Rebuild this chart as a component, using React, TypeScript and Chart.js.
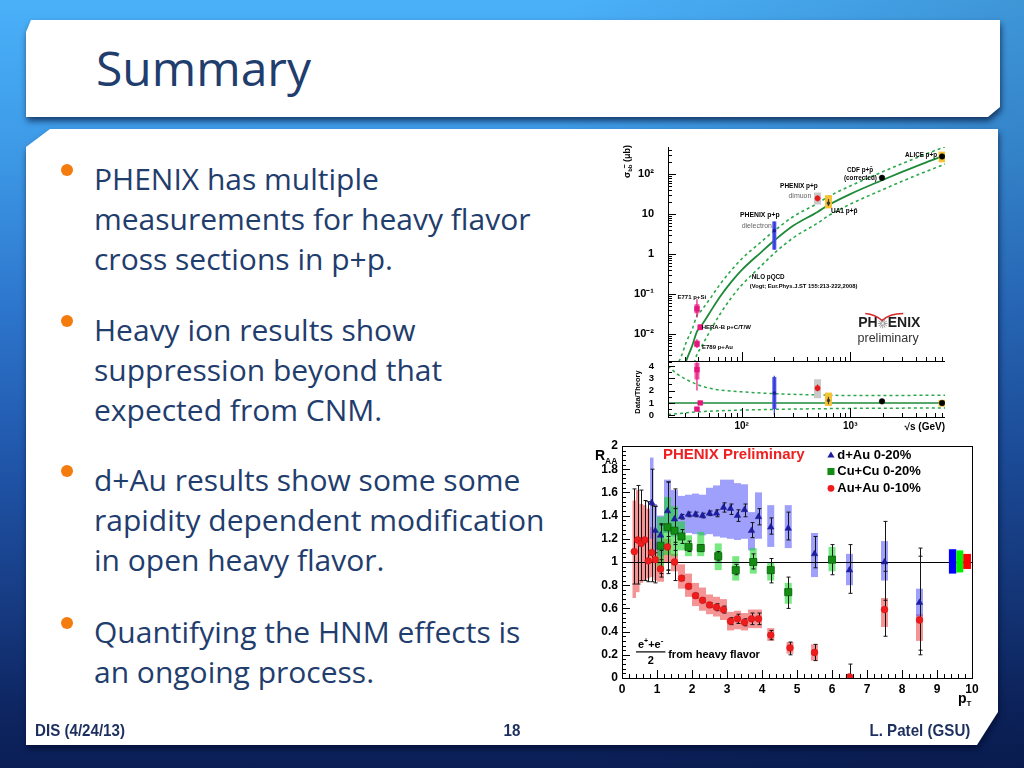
import React, { useEffect, useRef } from "react";
import { Chart, registerables } from "chart.js";

Chart.register(...registerables);

const F = '"Liberation Sans", Arial, Helvetica, sans-serif';

/* ================= top plot: sigma(b bbar) vs sqrt(s) ================= */
const nloSqrtS = [25, 28, 31, 35, 38.8, 41.6, 50, 63, 80, 100, 150, 200, 300, 500, 630, 1000, 1960, 3000, 5000, 7450];
const nloCentral = [0.0004, 0.0009, 0.0022, 0.005, 0.0115, 0.0148, 0.032, 0.085, 0.2, 0.4, 1.1, 2.2, 5.2, 11.4, 17, 32, 71, 115, 200, 300];
const nloUpper = [0.0015, 0.0029, 0.0064, 0.013, 0.029, 0.036, 0.07, 0.174, 0.39, 0.76, 2.0, 3.85, 8.8, 18.8, 27.7, 51, 114, 185, 324, 490];
const nloLower = [0.00005, 0.0001, 0.00044, 0.0012, 0.0031, 0.0043, 0.0106, 0.031, 0.08, 0.168, 0.5, 1.06, 2.6, 6.0, 9.2, 17.9, 40.5, 67, 118, 180];

const ratioBandSqrtS = [21, 25, 31, 38.8, 50, 63, 100, 200, 500, 1000, 3000, 7450];
const ratioUpper = [4.0, 3.4, 2.9, 2.5, 2.2, 2.05, 1.9, 1.75, 1.65, 1.6, 1.61, 1.63];
const ratioLower = [0.08, 0.12, 0.2, 0.27, 0.33, 0.37, 0.42, 0.48, 0.53, 0.56, 0.58, 0.6];
const ratioUnitySqrtS = [21, 7450];
const ratioUnity = [1, 1];

const expNames = ["E771 p+Si", "HERA-B p+C/T/W", "E789 p+Au", "PHENIX dielectron", "PHENIX dimuon", "UA1", "CDF", "ALICE"];
const expSqrtS = [38.8, 41.6, 38.8, 200, 500, 630, 1960, 7000];
const expSigma = [0.043, 0.0148, 0.0057, 3.9, 25, 19, 82, 280];
const expStatLo = [0.026, 0.0128, 0.0045, 1.3, 21, 16, 78, 255];
const expStatHi = [0.075, 0.0172, 0.0074, 6.6, 30, 24, 87, 310];
const expSysLo = [0.033, 0.0126, 0.0047, 1.3, 17.6, 14, 82, 200];
const expSysHi = [0.056, 0.0175, 0.0069, 6.6, 35, 30, 82, 370];
const expRatio = [3.7, 1.0, 0.5, 1.8, 2.2, 1.2, 1.13, 1.0];
const expRatioStatLo = [2.0, 0.9, 0.4, 0.0, 1.95, 0.9, 1.08, 0.9];
const expRatioStatHi = [4.3, 1.1, 0.6, 3.2, 2.5, 1.5, 1.18, 1.1];
const expRatioSysLo = [2.9, 0.85, 0.36, 0.5, 1.38, 0.76, 1.13, 0.7];
const expRatioSysHi = [4.25, 1.15, 0.64, 3.1, 2.92, 1.84, 1.13, 1.25];

const expStyle = [
  { marker: "rect", size: 3.4, fill: "#e3177c", box: "rgba(236,64,150,0.85)", boxHalf: 2.5, bar: "#e3177c" },
  { marker: "rect", size: 3.4, fill: "#e3177c", box: "rgba(236,64,150,0.85)", boxHalf: 2.5, bar: "#e3177c" },
  { marker: "rect", size: 3.4, fill: "#e3177c", box: "rgba(236,64,150,0.85)", boxHalf: 2.5, bar: "#e3177c" },
  { marker: "rect", size: 1.8, fill: "#1a1a90", box: "#4a52e8", boxHalf: 2, bar: "#3a3ad0" },
  { marker: "circle", size: 2.6, fill: "#e41a1a", box: "#c9c9c9", boxHalf: 3.5, bar: "#e41a1a" },
  { marker: "circle", size: 1.4, fill: "#333333", box: "#f6c234", boxHalf: 3.5, bar: "#444444" },
  { marker: "circle", size: 2.8, fill: "#000000", box: null, boxHalf: 0, bar: "#000000" },
  { marker: "circle", size: 2.8, fill: "#000000", box: "#f6c234", boxHalf: 3.5, bar: "#000000" },
];

const xsecNotes = [
  { t: "ALICE p+p", x: 3190, y: 305, size: 6.3, color: "#000", align: "left", bold: true },
  { t: "CDF p+p\u0304", x: 933, y: 128, size: 6.3, color: "#000", align: "left", bold: true },
  { t: "(corrected)", x: 875, y: 79, size: 6.3, color: "#000", align: "left", bold: true },
  { t: "PHENIX p+p", x: 337, y: 49, size: 6.5, color: "#000", align: "center", bold: true },
  { t: "dimuon", x: 344, y: 28.6, size: 7, color: "#666", align: "center", bold: false },
  { t: "UA1 p+p\u0304", x: 664, y: 11.6, size: 6.5, color: "#000", align: "left", bold: true },
  { t: "PHENIX p+p", x: 147, y: 9.55, size: 6.8, color: "#000", align: "center", bold: true },
  { t: "dielectron", x: 138, y: 5.06, size: 7, color: "#666", align: "center", bold: false },
  { t: "NLO pQCD", x: 124, y: 0.272, size: 6.3, color: "#000", align: "left", bold: true },
  { t: "(Vogt; Eur.Phys.J.ST 155:213-222,2008)", x: 119, y: 0.152, size: 5.8, color: "#000", align: "left", bold: true },
  { t: "E771 p+Si", x: 25.7, y: 0.0855, size: 6, color: "#000", align: "left", bold: true },
  { t: "HERA-B p+C/T/W", x: 42.9, y: 0.0146, size: 6, color: "#000", align: "left", bold: true },
  { t: "E789 p+Au", x: 43.2, y: 0.00478, size: 6, color: "#000", align: "left", bold: true },
];

/* ================= bottom plot: R_AA vs pT ================= */
const dAuPt = [0.85, 0.95, 1.1, 1.3, 1.5, 1.7, 1.9, 2.1, 2.3, 2.5, 2.7, 2.9, 3.1, 3.3, 3.5, 3.7, 3.9, 4.25, 4.75, 5.5, 6.5, 7.5, 8.5];
const dAuRaa = [1.51, 1.27, 1.23, 1.44, 1.37, 1.39, 1.41, 1.41, 1.40, 1.42, 1.42, 1.47, 1.46, 1.40, 1.45, 1.27, 1.39, 1.30, 1.29, 1.07, 0.93, 1.00, 0.65];
const dAuStatLo = [1.00, 1.08, 1.10, 0.93, 1.17, 1.37, 1.39, 1.39, 1.38, 1.40, 1.39, 1.43, 1.41, 1.35, 1.39, 1.21, 1.32, 1.24, 1.19, 0.95, 0.73, 0.67, 0.24];
const dAuStatHi = [1.80, 1.48, 1.33, 1.69, 1.63, 1.41, 1.43, 1.43, 1.42, 1.44, 1.45, 1.51, 1.50, 1.45, 1.50, 1.34, 1.46, 1.38, 1.43, 1.22, 1.15, 1.35, 1.05];
const dAuSysLo = [1.20, 1.10, 1.05, 1.25, 1.22, 1.25, 1.25, 1.24, 1.23, 1.24, 1.22, 1.21, 1.20, 1.19, 1.20, 1.10, 1.20, 1.13, 1.12, 0.87, 0.80, 0.84, 0.53];
const dAuSysHi = [1.90, 1.50, 1.40, 1.71, 1.62, 1.57, 1.58, 1.59, 1.58, 1.64, 1.66, 1.71, 1.71, 1.68, 1.67, 1.43, 1.60, 1.49, 1.49, 1.25, 1.07, 1.18, 0.77];
const dAuBinHalf = [0.05, 0.05, 0.1, 0.1, 0.1, 0.1, 0.1, 0.1, 0.1, 0.1, 0.1, 0.1, 0.1, 0.1, 0.1, 0.1, 0.1, 0.1, 0.1, 0.1, 0.1, 0.1, 0.1];

const cuPt = [1.1, 1.3, 1.5, 1.7, 1.9, 2.25, 2.75, 3.25, 3.75, 4.25, 4.75, 6.0];
const cuRaa = [1.14, 1.30, 1.27, 1.22, 1.13, 1.12, 1.05, 0.93, 1.00, 0.93, 0.74, 1.02];
const cuStatLo = [0.90, 0.93, 1.10, 1.16, 1.09, 1.09, 1.01, 0.89, 0.94, 0.82, 0.60, 0.89];
const cuStatHi = [1.32, 1.69, 1.46, 1.28, 1.18, 1.15, 1.09, 0.98, 1.07, 1.03, 0.87, 1.15];
const cuSysLo = [0.92, 1.06, 1.05, 1.10, 1.05, 1.05, 0.93, 0.84, 0.90, 0.84, 0.64, 0.92];
const cuSysHi = [1.39, 1.56, 1.48, 1.35, 1.23, 1.26, 1.16, 1.05, 1.12, 1.00, 0.82, 1.13];
const cuBinHalf = [0.1, 0.1, 0.1, 0.1, 0.1, 0.1, 0.1, 0.1, 0.1, 0.1, 0.1, 0.1];

const auPt = [0.35, 0.45, 0.55, 0.65, 0.75, 0.85, 0.95, 1.1, 1.3, 1.5, 1.7, 1.9, 2.1, 2.3, 2.5, 2.7, 2.9, 3.1, 3.3, 3.5, 3.7, 3.9, 4.25, 4.8, 5.5, 6.5, 7.5, 8.5];
const auRaa = [1.09, 1.19, 1.16, 1.19, 1.01, 1.08, 1.02, 0.94, 1.13, 1.00, 0.86, 0.79, 0.71, 0.67, 0.63, 0.61, 0.59, 0.49, 0.51, 0.48, 0.51, 0.51, 0.37, 0.26, 0.22, 0.01, 0.59, 0.50];
const auStatLo = [0.81, 0.81, 0.84, 0.84, 0.83, 0.83, 0.82, 0.87, 0.90, 0.84, 0.84, 0.77, 0.69, 0.65, 0.61, 0.58, 0.56, 0.46, 0.47, 0.45, 0.46, 0.46, 0.33, 0.20, 0.15, -0.02, 0.36, 0.20];
const auStatHi = [1.63, 1.66, 1.62, 1.53, 1.52, 1.49, 1.48, 1.02, 1.22, 1.15, 0.88, 0.81, 0.73, 0.69, 0.65, 0.64, 0.62, 0.52, 0.55, 0.51, 0.56, 0.56, 0.41, 0.31, 0.29, 0.12, 0.92, 1.12];
const auSysLo = [0.69, 0.74, 0.82, 0.84, 0.86, 0.87, 0.84, 0.83, 1.00, 0.92, 0.77, 0.70, 0.62, 0.58, 0.55, 0.53, 0.50, 0.41, 0.42, 0.41, 0.43, 0.43, 0.32, 0.21, 0.15, -0.02, 0.44, 0.32];
const auSysHi = [1.53, 1.62, 1.50, 1.49, 1.46, 1.30, 1.25, 1.10, 1.20, 1.07, 0.98, 0.90, 0.82, 0.78, 0.72, 0.70, 0.68, 0.57, 0.58, 0.56, 0.59, 0.59, 0.43, 0.31, 0.29, 0.03, 0.69, 0.55];
const auBinHalf = [0.05, 0.05, 0.05, 0.05, 0.05, 0.05, 0.05, 0.1, 0.1, 0.1, 0.1, 0.1, 0.1, 0.1, 0.1, 0.1, 0.1, 0.1, 0.1, 0.1, 0.1, 0.1, 0.1, 0.1, 0.1, 0.1, 0.1, 0.1];

const normPtLo = [9.34, 9.55, 9.75];
const normPtHi = [9.55, 9.75, 9.97];
const normLo = [0.90, 0.91, 0.94];
const normHi = [1.11, 1.10, 1.07];
const normColors = ["#0000ff", "#00ee00", "#ff0000"];

const raaLegend = ["d+Au 0-20%", "Cu+Cu 0-20%", "Au+Au 0-10%"];

const raaStyles = {
  dAu: { marker: "triangle", r: 3.8, fill: "#1c1c9c", box: "rgba(90,90,250,0.58)" },
  cu: { marker: "rect", r: 5.0, fill: "#138c13", box: "rgba(20,215,40,0.58)" },
  au: { marker: "circle", r: 3.4, fill: "#ee1c1c", box: "rgba(236,60,60,0.55)" },
};

const raaSeriesDraw = [
  { pt: auPt, statLo: auStatLo, statHi: auStatHi, sysLo: auSysLo, sysHi: auSysHi, half: auBinHalf, style: raaStyles.au },
  { pt: dAuPt, statLo: dAuStatLo, statHi: dAuStatHi, sysLo: dAuSysLo, sysHi: dAuSysHi, half: dAuBinHalf, style: raaStyles.dAu },
  { pt: cuPt, statLo: cuStatLo, statHi: cuStatHi, sysLo: cuSysLo, sysHi: cuSysHi, half: cuBinHalf, style: raaStyles.cu },
];

/* ================= slide text ================= */
const bullets = [
  ["PHENIX has multiple", "measurements for heavy flavor", "cross sections in p+p."],
  ["Heavy ion results show", "suppression beyond that", "expected from CNM."],
  ["d+Au results show some some", "rapidity dependent modification", "in open heavy flavor."],
  ["Quantifying the HNM effects is", "an ongoing process."],
];
const bulletBaselines = [187, 338, 488, 640];

/* ================= helpers ================= */
type Seg = { t: string; font: string; dy?: number; color?: string; over?: boolean };

function drawRich(ctx: any, segs: Seg[], x: number, y: number, align = "left") {
  let w = 0;
  for (const s of segs) {
    ctx.font = s.font;
    w += ctx.measureText(s.t).width;
  }
  let cx = align === "center" ? x - w / 2 : align === "right" ? x - w : x;
  ctx.textAlign = "left";
  for (const s of segs) {
    ctx.font = s.font;
    ctx.fillStyle = s.color || "#000";
    ctx.fillText(s.t, cx, y + (s.dy || 0));
    const sw = ctx.measureText(s.t).width;
    if (s.over) {
      const cw = ctx.measureText(s.t.slice(-1)).width;
      ctx.strokeStyle = s.color || "#000";
      ctx.lineWidth = 0.8;
      ctx.beginPath();
      ctx.moveTo(cx + sw - cw, y + (s.dy || 0) - 6);
      ctx.lineTo(cx + sw, y + (s.dy || 0) - 6);
      ctx.stroke();
    }
    cx += sw;
  }
}

function clipArea(ctx: any, a: any) {
  ctx.beginPath();
  ctx.rect(a.left, a.top, a.right - a.left, a.bottom - a.top);
  ctx.clip();
}

function logTickValues(min: number, max: number) {
  const out: { v: number; major: boolean }[] = [];
  for (let e = -4; e <= 4; e++) {
    for (let m = 1; m <= 9; m++) {
      const v = m * Math.pow(10, e);
      if (v >= min * 0.9999 && v <= max * 1.0001) out.push({ v, major: m === 1 });
    }
  }
  return out;
}

function drawMarker(ctx: any, kind: string, x: number, y: number, r: number, color: string) {
  ctx.fillStyle = color;
  ctx.beginPath();
  if (kind === "circle") {
    ctx.arc(x, y, r, 0, Math.PI * 2);
  } else if (kind === "rect") {
    const h = r * Math.SQRT1_2;
    ctx.rect(x - h, y - h, 2 * h, 2 * h);
  } else {
    ctx.moveTo(x, y - r);
    ctx.lineTo(x + r * 0.95, y + r * 0.6);
    ctx.lineTo(x - r * 0.95, y + r * 0.6);
    ctx.closePath();
  }
  ctx.fill();
}

function makeExpPlugin(id: string, yv: number[], sLo: number[], sHi: number[], bLo: number[], bHi: number[], after: (chart: any) => void) {
  return {
    id,
    beforeDatasetDraw(chart: any, args: any) {
      if (args.index !== 0) return;
      const { ctx, chartArea: a } = chart;
      const X = chart.scales.x;
      const Y = chart.scales.y;
      ctx.save();
      clipArea(ctx, a);
      expSqrtS.forEach((sx, i) => {
        const st = expStyle[i];
        const x = X.getPixelForValue(sx);
        if (st.box) {
          const t = Y.getPixelForValue(bHi[i]);
          const b = Y.getPixelForValue(bLo[i]);
          ctx.fillStyle = st.box;
          ctx.fillRect(x - st.boxHalf, t, 2 * st.boxHalf, b - t);
        }
        ctx.strokeStyle = st.bar;
        ctx.lineWidth = 1.2;
        ctx.beginPath();
        ctx.moveTo(x, Y.getPixelForValue(sHi[i]));
        ctx.lineTo(x, Y.getPixelForValue(sLo[i]));
        ctx.stroke();
      });
      ctx.restore();
    },
    afterDraw(chart: any) {
      after(chart);
    },
  };
}

function drawLogXTicks(ctx: any, X: any, a: any) {
  ctx.beginPath();
  for (const t of logTickValues(X.min, X.max)) {
    const x = Math.round(X.getPixelForValue(t.v)) + 0.5;
    ctx.moveTo(x, a.bottom);
    ctx.lineTo(x, a.bottom - (t.major ? 10 : 5));
  }
  ctx.stroke();
}

/* ================= chart configs ================= */
const topLayoutX = {
  type: "logarithmic",
  min: 21,
  max: 7450,
};

function xsecConfig(): any {
  const plugin = makeExpPlugin("xsecDecor", expSigma, expStatLo, expStatHi, expSysLo, expSysHi, (chart: any) => {
    const { ctx, chartArea: a } = chart;
    const X = chart.scales.x;
    const Y = chart.scales.y;
    ctx.save();
    ctx.strokeStyle = "#000";
    ctx.lineWidth = 1;
    ctx.beginPath();
    ctx.moveTo(Math.round(a.left) + 0.5, a.top);
    ctx.lineTo(Math.round(a.left) + 0.5, a.bottom);
    ctx.moveTo(a.left, Math.round(a.bottom) - 0.5);
    ctx.lineTo(a.right, Math.round(a.bottom) - 0.5);
    ctx.stroke();
    ctx.beginPath();
    for (const t of logTickValues(Y.min, Y.max)) {
      const y = Math.round(Y.getPixelForValue(t.v)) + 0.5;
      ctx.moveTo(a.left, y);
      ctx.lineTo(a.left + (t.major ? 8 : 4), y);
    }
    ctx.stroke();
    drawLogXTicks(ctx, X, a);

    ctx.textBaseline = "middle";
    for (const n of xsecNotes) {
      ctx.fillStyle = n.color;
      ctx.font = `${n.bold ? "bold " : ""}${n.size}px ${F}`;
      ctx.textAlign = n.align;
      ctx.fillText(n.t, X.getPixelForValue(n.x), Y.getPixelForValue(n.y));
    }
    // PHENIX logo
    const lx = X.getPixelForValue(1185);
    const ly = Y.getPixelForValue(0.0184);
    ctx.textAlign = "left";
    ctx.fillStyle = "#1e1e1e";
    ctx.font = `bold 14px ${F}`;
    ctx.fillText("PH", lx, ly);
    const wPH = ctx.measureText("PH").width;
    ctx.fillText("ENIX", lx + wPH + 10, ly);
    const sx = lx + wPH + 5;
    ctx.strokeStyle = "#888";
    ctx.lineWidth = 0.8;
    ctx.beginPath();
    for (let k = 0; k < 12; k++) {
      const ang = (k * Math.PI) / 6;
      ctx.moveTo(sx + Math.cos(ang) * 1.2, ly + Math.sin(ang) * 1.2);
      ctx.lineTo(sx + Math.cos(ang) * 4.8, ly + Math.sin(ang) * 4.8);
    }
    ctx.stroke();
    ctx.strokeStyle = "#d42a2a";
    ctx.lineWidth = 1.3;
    ctx.beginPath();
    ctx.moveTo(lx + 7, ly - 10);
    ctx.quadraticCurveTo(lx + 17, ly - 9, lx + 24, ly - 3);
    ctx.quadraticCurveTo(lx + 31, ly - 10, lx + 45, ly - 10);
    ctx.stroke();
    ctx.fillStyle = "#333";
    ctx.font = `12.5px ${F}`;
    ctx.fillText("preliminary", X.getPixelForValue(1167), Y.getPixelForValue(0.0079));

    // y title sigma_bb (ub)
    ctx.save();
    ctx.translate(a.left - 40, a.top + 31);
    ctx.rotate(-Math.PI / 2);
    ctx.textBaseline = "middle";
    drawRich(ctx, [
      { t: "\u03c3", font: `bold 9px ${F}` },
      { t: "bb", font: `bold 6px ${F}`, dy: 2.5, over: true },
      { t: " (\u03bcb)", font: `bold 9px ${F}` },
    ], 0, 0, "left");
    ctx.restore();
    ctx.restore();
  });

  return {
    type: "scatter",
    data: {
      datasets: [
        {
          label: "data",
          data: expSqrtS.map((x, i) => ({ x, y: expSigma[i] })),
          pointStyle: expStyle.map((s) => s.marker),
          pointRadius: expStyle.map((s) => s.size),
          pointBackgroundColor: expStyle.map((s) => s.fill),
          pointBorderColor: expStyle.map((s) => s.fill),
          pointBorderWidth: 0.5,
        },
        {
          type: "line",
          label: "NLO pQCD",
          data: nloSqrtS.map((x, i) => ({ x, y: nloCentral[i] })),
          borderColor: "#1d8a38",
          borderWidth: 1.8,
          pointRadius: 0,
          cubicInterpolationMode: "monotone",
          fill: false,
        },
        {
          type: "line",
          label: "NLO upper",
          data: nloSqrtS.map((x, i) => ({ x, y: nloUpper[i] })),
          borderColor: "#2aa84a",
          borderDash: [3, 3],
          borderWidth: 1.6,
          pointRadius: 0,
          cubicInterpolationMode: "monotone",
          fill: false,
        },
        {
          type: "line",
          label: "NLO lower",
          data: nloSqrtS.map((x, i) => ({ x, y: nloLower[i] })),
          borderColor: "#2aa84a",
          borderDash: [3, 3],
          borderWidth: 1.6,
          pointRadius: 0,
          cubicInterpolationMode: "monotone",
          fill: false,
        },
      ],
    },
    options: {
      animation: false,
      responsive: false,
      maintainAspectRatio: false,
      events: [],
      layout: { padding: { top: 24, bottom: 24, left: 0, right: 15 } },
      plugins: { legend: { display: false }, tooltip: { enabled: false } },
      scales: {
        x: { ...topLayoutX, display: false },
        y: {
          type: "logarithmic",
          min: 0.002,
          max: 483,
          afterFit: (s: any) => { s.width = 53; },
          afterBuildTicks: (s: any) => { s.ticks = [0.01, 0.1, 1, 10, 100].map((v) => ({ value: v })); },
          grid: { display: false, drawTicks: false },
          border: { display: false },
          ticks: {
            padding: 14,
            autoSkip: false,
            color: "#000",
            font: { family: F, size: 11, weight: "bold" },
            callback: (v: number) => {
              const e = Math.round(Math.log10(v));
              return ({ 2: "10\u00b2", 1: "10", 0: "1", [-1]: "10\u207b\u00b9", [-2]: "10\u207b\u00b2" } as any)[e];
            },
          },
        },
      },
    },
    plugins: [plugin],
  };
}

function ratioConfig(): any {
  const plugin = makeExpPlugin("ratioDecor", expRatio, expRatioStatLo, expRatioStatHi, expRatioSysLo, expRatioSysHi, (chart: any) => {
    const { ctx, chartArea: a } = chart;
    const X = chart.scales.x;
    const Y = chart.scales.y;
    ctx.save();
    ctx.strokeStyle = "#000";
    ctx.lineWidth = 1;
    ctx.beginPath();
    ctx.moveTo(Math.round(a.left) + 0.5, a.top);
    ctx.lineTo(Math.round(a.left) + 0.5, a.bottom);
    ctx.moveTo(a.left, Math.round(a.bottom) - 0.5);
    ctx.lineTo(a.right, Math.round(a.bottom) - 0.5);
    ctx.stroke();
    ctx.beginPath();
    for (let k = 0; k <= 8; k++) {
      const v = k * 0.5;
      const y = Math.round(Y.getPixelForValue(v)) + 0.5;
      ctx.moveTo(a.left, y);
      ctx.lineTo(a.left + (k % 2 === 0 ? 7 : 4), y);
    }
    ctx.stroke();
    drawLogXTicks(ctx, X, a);

    ctx.textBaseline = "middle";
    drawRich(ctx, [{ t: "\u221as (GeV)", font: `bold 10px ${F}` }], a.right, a.bottom + 9, "right");

    ctx.save();
    ctx.translate(a.left - 30, (a.top + a.bottom) / 2 + 2);
    ctx.rotate(-Math.PI / 2);
    ctx.textBaseline = "middle";
    drawRich(ctx, [{ t: "Data/Theory", font: `bold 7.5px ${F}` }], 0, 0, "center");
    ctx.restore();
    ctx.restore();
  });

  return {
    type: "scatter",
    data: {
      datasets: [
        {
          label: "data/theory",
          data: expSqrtS.map((x, i) => ({ x, y: expRatio[i] })),
          pointStyle: expStyle.map((s) => s.marker),
          pointRadius: expStyle.map((s) => s.size),
          pointBackgroundColor: expStyle.map((s) => s.fill),
          pointBorderColor: expStyle.map((s) => s.fill),
          pointBorderWidth: 0.5,
        },
        {
          type: "line",
          label: "unity",
          data: ratioUnitySqrtS.map((x, i) => ({ x, y: ratioUnity[i] })),
          borderColor: "#1d8a38",
          borderWidth: 1.5,
          pointRadius: 0,
          fill: false,
        },
        {
          type: "line",
          label: "upper",
          data: ratioBandSqrtS.map((x, i) => ({ x, y: ratioUpper[i] })),
          borderColor: "#2aa84a",
          borderDash: [3, 3],
          borderWidth: 1.5,
          pointRadius: 0,
          cubicInterpolationMode: "monotone",
          fill: false,
        },
        {
          type: "line",
          label: "lower",
          data: ratioBandSqrtS.map((x, i) => ({ x, y: ratioLower[i] })),
          borderColor: "#2aa84a",
          borderDash: [3, 3],
          borderWidth: 1.5,
          pointRadius: 0,
          cubicInterpolationMode: "monotone",
          fill: false,
        },
      ],
    },
    options: {
      animation: false,
      responsive: false,
      maintainAspectRatio: false,
      events: [],
      layout: { padding: { top: 24, bottom: 0, left: 0, right: 15 } },
      plugins: { legend: { display: false }, tooltip: { enabled: false } },
      scales: {
        x: {
          ...topLayoutX,
          afterFit: (s: any) => { s.height = 22; },
          afterBuildTicks: (s: any) => { s.ticks = [100, 1000].map((v) => ({ value: v })); },
          grid: { display: false, drawTicks: false },
          border: { display: false },
          ticks: {
            padding: 2,
            autoSkip: false,
            color: "#000",
            maxRotation: 0,
            font: { family: F, size: 10, weight: "bold" },
            callback: (v: number) => (v < 500 ? "10\u00b2" : "10\u00b3"),
          },
        },
        y: {
          type: "linear",
          min: -0.22,
          max: 4.32,
          afterFit: (s: any) => { s.width = 53; },
          afterBuildTicks: (s: any) => { s.ticks = [0, 1, 2, 3, 4].map((v) => ({ value: v })); },
          grid: { display: false, drawTicks: false },
          border: { display: false },
          ticks: { padding: 14, autoSkip: false, color: "#000", font: { family: F, size: 9.5, weight: "bold" } },
        },
      },
    },
    plugins: [plugin],
  };
}

function raaConfig(): any {
  const plugin = {
    id: "raaDecor",
    beforeDatasetsDraw(chart: any) {
      const { ctx, chartArea: a } = chart;
      const X = chart.scales.x;
      const Y = chart.scales.y;
      ctx.save();
      clipArea(ctx, a);
      for (const s of raaSeriesDraw) {
        ctx.fillStyle = s.style.box;
        s.pt.forEach((p: number, i: number) => {
          const x0 = X.getPixelForValue(p - s.half[i]);
          const x1 = X.getPixelForValue(p + s.half[i]);
          const y0 = Y.getPixelForValue(s.sysHi[i]);
          const y1 = Y.getPixelForValue(s.sysLo[i]);
          ctx.fillRect(x0, y0, x1 - x0, y1 - y0);
        });
      }
      ctx.strokeStyle = "#000";
      ctx.lineWidth = 1;
      const yu = Math.round(Y.getPixelForValue(1)) + 0.5;
      ctx.beginPath();
      ctx.moveTo(X.getPixelForValue(0), yu);
      ctx.lineTo(X.getPixelForValue(10), yu);
      ctx.stroke();
      ctx.strokeStyle = "#151515";
      ctx.beginPath();
      for (const s of raaSeriesDraw) {
        s.pt.forEach((p: number, i: number) => {
          const x = Math.round(X.getPixelForValue(p)) + 0.5;
          const t = Y.getPixelForValue(s.statHi[i]);
          const b = Y.getPixelForValue(s.statLo[i]);
          ctx.moveTo(x, t); ctx.lineTo(x, b);
          ctx.moveTo(x - 2, t); ctx.lineTo(x + 2, t);
          ctx.moveTo(x - 2, b); ctx.lineTo(x + 2, b);
        });
      }
      ctx.stroke();
      ctx.restore();
    },
    afterDraw(chart: any) {
      const { ctx, chartArea: a } = chart;
      const X = chart.scales.x;
      const Y = chart.scales.y;
      ctx.save();
      normPtLo.forEach((lo, i) => {
        const x0 = X.getPixelForValue(lo);
        const x1 = X.getPixelForValue(normPtHi[i]);
        const y0 = Y.getPixelForValue(normHi[i]);
        const y1 = Y.getPixelForValue(normLo[i]);
        ctx.fillStyle = normColors[i];
        ctx.fillRect(x0, y0, x1 - x0, y1 - y0);
      });
      ctx.strokeStyle = "#000";
      ctx.lineWidth = 1;
      ctx.strokeRect(Math.round(a.left) + 0.5, Math.round(a.top) + 0.5, Math.round(a.right - a.left), Math.round(a.bottom - a.top));
      ctx.beginPath();
      for (let k = 0; k <= 50; k++) {
        const x = Math.round(X.getPixelForValue(k * 0.2)) + 0.5;
        ctx.moveTo(x, a.bottom);
        ctx.lineTo(x, a.bottom - (k % 5 === 0 ? 8 : 4));
      }
      for (let k = 0; k <= 50; k++) {
        const y = Math.round(Y.getPixelForValue(k * 0.04)) + 0.5;
        ctx.moveTo(a.left, y);
        ctx.lineTo(a.left + (k % 5 === 0 ? 8 : 4), y);
      }
      ctx.stroke();

      ctx.textBaseline = "middle";
      ctx.textAlign = "left";
      ctx.fillStyle = "#ee2020";
      ctx.font = `bold 15px ${F}`;
      ctx.fillText("PHENIX Preliminary", X.getPixelForValue(1.17), Y.getPixelForValue(1.92));

      const legStyles = [raaStyles.dAu, raaStyles.cu, raaStyles.au];
      const legY = [1.92, 1.78, 1.635];
      raaLegend.forEach((name, i) => {
        const st = legStyles[i];
        drawMarker(ctx, st.marker, X.getPixelForValue(5.97), Y.getPixelForValue(legY[i]), st.r, st.fill);
        ctx.fillStyle = "#000";
        ctx.font = `bold 13px ${F}`;
        ctx.fillText(name, X.getPixelForValue(6.15), Y.getPixelForValue(legY[i]));
      });

      // e+ + e- / 2 from heavy flavor
      const fx = X.getPixelForValue(0.82);
      drawRich(ctx, [
        { t: "e", font: `bold 11px ${F}` },
        { t: "+", font: `bold 7px ${F}`, dy: -4 },
        { t: "+e", font: `bold 11px ${F}` },
        { t: "-", font: `bold 8px ${F}`, dy: -4 },
      ], fx, Y.getPixelForValue(0.285), "center");
      ctx.strokeStyle = "#000";
      ctx.lineWidth = 1.2;
      ctx.beginPath();
      ctx.moveTo(X.getPixelForValue(0.4), Y.getPixelForValue(0.225));
      ctx.lineTo(X.getPixelForValue(1.24), Y.getPixelForValue(0.225));
      ctx.stroke();
      drawRich(ctx, [{ t: "2", font: `bold 11px ${F}` }], fx, Y.getPixelForValue(0.15), "center");
      drawRich(ctx, [{ t: "from heavy flavor", font: `bold 11px ${F}` }], X.getPixelForValue(1.32), Y.getPixelForValue(0.2), "left");

      ctx.textBaseline = "alphabetic";
      drawRich(ctx, [
        { t: "R", font: `bold 14px ${F}` },
        { t: "AA", font: `bold 8.5px ${F}`, dy: 4 },
      ], a.left - 27, a.top + 14, "left");
      drawRich(ctx, [
        { t: "p", font: `bold 14px ${F}` },
        { t: "T", font: `bold 8px ${F}`, dy: 3 },
      ], a.right - 14, a.bottom + 25, "left");
      ctx.restore();
    },
  };

  return {
    type: "scatter",
    data: {
      datasets: [
        {
          label: raaLegend[2],
          data: auPt.map((x, i) => ({ x, y: auRaa[i] })),
          pointStyle: "circle",
          pointRadius: raaStyles.au.r,
          pointBackgroundColor: raaStyles.au.fill,
          pointBorderColor: "#c81010",
          pointBorderWidth: 0.5,
        },
        {
          label: raaLegend[1],
          data: cuPt.map((x, i) => ({ x, y: cuRaa[i] })),
          pointStyle: "rect",
          pointRadius: raaStyles.cu.r,
          pointBackgroundColor: raaStyles.cu.fill,
          pointBorderColor: "#0b5e0b",
          pointBorderWidth: 0.8,
        },
        {
          label: raaLegend[0],
          data: dAuPt.map((x, i) => ({ x, y: dAuRaa[i] })),
          pointStyle: "triangle",
          pointRadius: raaStyles.dAu.r,
          pointBackgroundColor: raaStyles.dAu.fill,
          pointBorderColor: raaStyles.dAu.fill,
          pointBorderWidth: 0.5,
        },
      ],
    },
    options: {
      animation: false,
      responsive: false,
      maintainAspectRatio: false,
      events: [],
      layout: { padding: { top: 13, bottom: 0, left: 0, right: 13 } },
      plugins: { legend: { display: false }, tooltip: { enabled: false } },
      scales: {
        x: {
          type: "linear",
          min: 0,
          max: 10,
          afterFit: (s: any) => { s.height = 37; },
          grid: { display: false, drawTicks: false },
          border: { display: false },
          ticks: {
            stepSize: 1,
            padding: 4,
            autoSkip: false,
            maxRotation: 0,
            color: "#000",
            font: { family: F, size: 12, weight: "bold" },
            callback: (v: number) => String(Math.round(v)),
          },
        },
        y: {
          type: "linear",
          min: 0,
          max: 2,
          afterFit: (s: any) => { s.width = 37; },
          grid: { display: false, drawTicks: false },
          border: { display: false },
          ticks: {
            stepSize: 0.2,
            padding: 4,
            autoSkip: false,
            color: "#000",
            font: { family: F, size: 12, weight: "bold" },
            callback: (v: number) => String(Number(v.toFixed(1))),
          },
        },
      },
    },
    plugins: [plugin],
  };
}

/* ================= component ================= */
const TEXT_BLUE = "#1f3d6d";

export default function App() {
  const xsecRef = useRef<HTMLCanvasElement>(null);
  const ratioRef = useRef<HTMLCanvasElement>(null);
  const raaRef = useRef<HTMLCanvasElement>(null);

  useEffect(() => {
    const charts = [
      new Chart(xsecRef.current as HTMLCanvasElement, xsecConfig()),
      new Chart(ratioRef.current as HTMLCanvasElement, ratioConfig()),
      new Chart(raaRef.current as HTMLCanvasElement, raaConfig()),
    ];
    return () => charts.forEach((c) => c.destroy());
  }, []);

  const canvasStyle = (left: number, top: number, w: number, h: number): any => ({
    position: "absolute", left, top, width: w, height: h,
  });

  const footer: any = {
    position: "absolute",
    top: 721,
    font: `bold 17px/20px "Liberation Sans Narrow", "Arial Narrow", ${F}`,
    color: "#1c2f5e",
    whiteSpace: "nowrap",
  };

  return (
    <div
      style={{
        position: "fixed", left: 0, top: 0, width: 1024, height: 768, overflow: "hidden",
        background:
          "linear-gradient(90deg, rgba(0,0,0,0) 55%, rgba(0,10,40,0.16) 100%), linear-gradient(180deg, #4ab1f9 0%, #3d99e6 20%, #2d76cd 40%, #2056aa 60%, #173c84 78%, #0e2662 92%, #0b1f56 100%)",
      }}
    >
      <div style={{ position: "absolute", left: 0, top: 0, width: 1024, height: 768, filter: "drop-shadow(1px 4px 3px rgba(0,8,40,0.65))" }}>
        <div style={{ position: "absolute", left: 26, top: 20, width: 974, height: 97, background: "#fff", clipPath: "polygon(5px 0, 100% 0, 100% 87px, 962px 100%, 0 100%, 0 12px)" }} />
        <div style={{ position: "absolute", left: 26, top: 129, width: 972, height: 616, background: "#fff", clipPath: "polygon(24px 0, 100% 0, 100% 583px, 951px 100%, 0 100%, 0 18px)" }} />
      </div>

      <div style={{ position: "absolute", left: 96, top: 38.4, font: '48px/60px "Open Sans", sans-serif', color: TEXT_BLUE, whiteSpace: "nowrap" }}>
        Summary
      </div>

      {bullets.map((lines, k) => (
        <React.Fragment key={k}>
          <div style={{ position: "absolute", left: 61, top: bulletBaselines[k] - 23, width: 12, height: 12, borderRadius: "50%", background: "#f47b0e" }} />
          <div style={{ position: "absolute", left: 94, top: bulletBaselines[k] - 27.6, font: '30px/40px "Open Sans", sans-serif', color: TEXT_BLUE, whiteSpace: "nowrap" }}>
            {lines.map((l, j) => (
              <div key={j}>{l}</div>
            ))}
          </div>
        </React.Fragment>
      ))}

      <canvas ref={xsecRef} width={345} height={263} style={canvasStyle(615, 123, 345, 263)} />
      <canvas ref={ratioRef} width={345} height={102} style={canvasStyle(615, 338, 345, 102)} />
      <canvas ref={raaRef} width={400} height={282} style={canvasStyle(585, 433, 400, 282)} />

      <div style={{ ...footer, left: 35, transform: "scaleX(0.89)", transformOrigin: "left center" }}>DIS (4/24/13)</div>
      <div style={{ ...footer, left: 462, width: 100, textAlign: "center", transform: "scaleX(0.89)" }}>18</div>
      <div style={{ ...footer, right: 54, transform: "scaleX(0.89)", transformOrigin: "right center" }}>L. Patel (GSU)</div>
    </div>
  );
}
